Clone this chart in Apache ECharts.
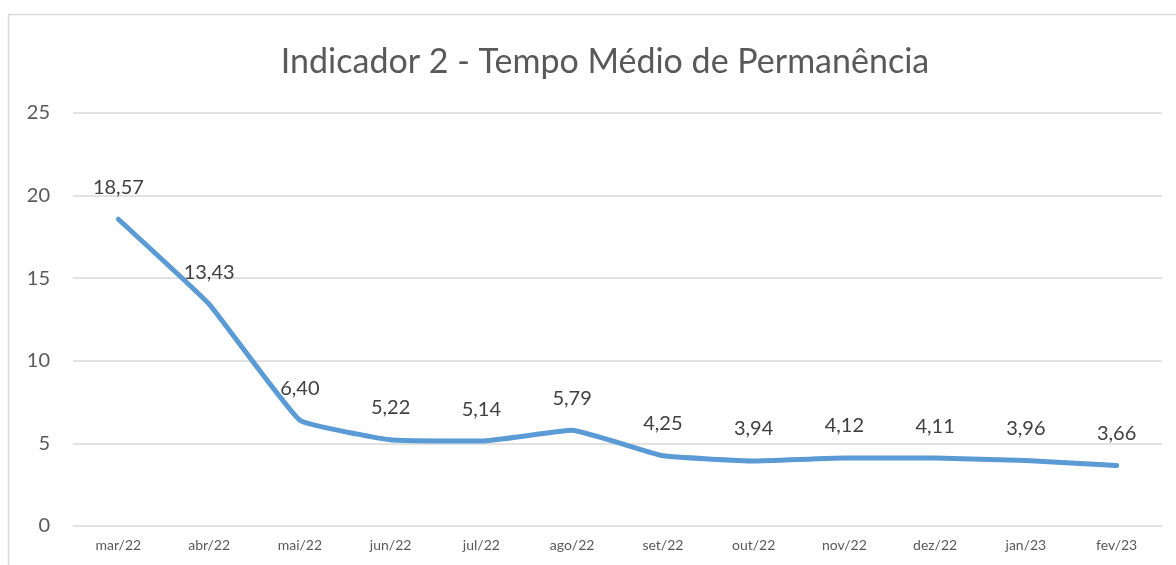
<!DOCTYPE html>
<html><head><meta charset="utf-8">
<script src="https://cdn.jsdelivr.net/npm/echarts@6/dist/echarts.min.js"></script>
<style>html,body{margin:0;padding:0;background:#fff}#c{width:1176px;height:565px}</style>
</head><body><div id="c"></div>
<script>
const categories = ['mar/22','abr/22','mai/22','jun/22','jul/22','ago/22','set/22','out/22','nov/22','dez/22','jan/23','fev/23'];
const values = [18.57,13.43,6.40,5.22,5.14,5.79,4.25,3.94,4.12,4.11,3.96,3.66];
const titleText = 'Indicador 2 - Tempo Médio de Permanência';

const chart = echarts.init(document.getElementById('c'));
chart.setOption({
  animation:false,
  backgroundColor:'#fff',
  textStyle:{fontFamily:'Lato'},
  graphic:[{type:'rect',shape:{x:8.5,y:14.5,width:1200,height:600},style:{fill:'none',stroke:'#d9d9d9',lineWidth:1.5},silent:true}],
  title:{text:titleText,left:600,textAlign:'center',top:40,textStyle:{fontFamily:'Lato',fontWeight:'normal',fontSize:34,color:'#595959'}},
  grid:{left:73,right:14,top:113,bottom:39},
  xAxis:{type:'category',data:categories,boundaryGap:true,
    axisLine:{show:false},axisTick:{show:false},
    axisLabel:{color:'#595959',fontSize:14,margin:12,fontFamily:'Lato'}},
  yAxis:{type:'value',min:0,max:25,interval:5,
    axisLine:{show:false},axisTick:{show:false},
    splitLine:{lineStyle:{color:'#d9d9d9',width:1.5}},
    axisLabel:{color:'#595959',fontSize:20,margin:23,fontFamily:'Lato'}},
  series:[{type:'line',data:values,smooth:0.1,symbol:'circle',symbolSize:4,showSymbol:true,
    itemStyle:{color:'#5b9bd5',borderWidth:0},
    lineStyle:{color:'#5b9bd5',width:5,cap:'round'},
    labelLayout:{hideOverlap:false},
    label:{show:true,position:'top',distance:20,fontSize:20,color:'#404040',fontFamily:'Lato',
      formatter:p=>p.value.toFixed(2).replace('.',',')}}]
});
</script></body></html>
